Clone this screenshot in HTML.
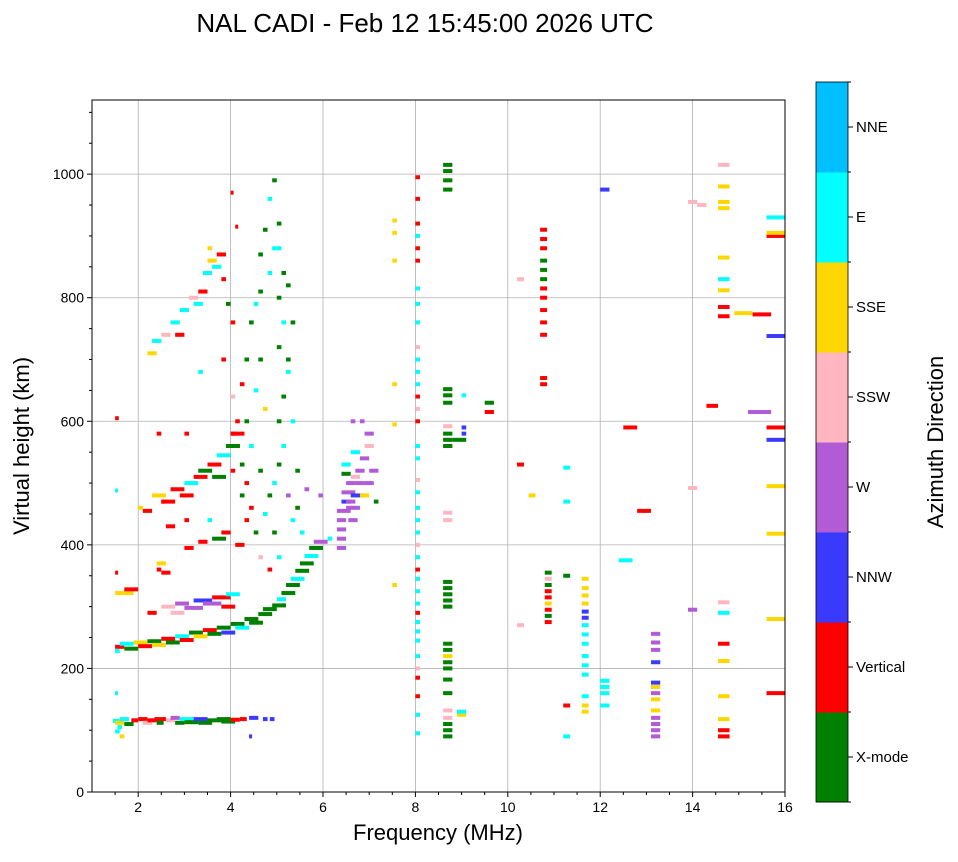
<!DOCTYPE html>
<html><head><meta charset="utf-8"><style>
body{margin:0;background:#fff;font-family:"Liberation Sans",sans-serif}
svg text{font-family:"Liberation Sans",sans-serif}
</style></head><body>
<svg id="chart" width="958" height="857" xmlns="http://www.w3.org/2000/svg">
<text x="425" y="32" font-size="26" text-anchor="middle">NAL CADI - Feb 12 15:45:00 2026 UTC</text>
<g id="grid"></g>
<g id="marks"></g>
<rect x="92" y="100" width="693" height="692" fill="none" stroke="#000" stroke-width="1"/>
<g id="axes"></g>
<text x="438" y="840" font-size="22" text-anchor="middle">Frequency (MHz)</text>
<text transform="translate(29,446) rotate(-90)" font-size="22" text-anchor="middle">Virtual height (km)</text>
<g id="cbar"></g>
<text transform="translate(943,442) rotate(-90)" font-size="22" text-anchor="middle">Azimuth Direction</text>
</svg>
<script>
const directions=["X-mode","Vertical","NNW","W","SSW","SSE","E","NNE"];
const dirColors=["#008000","#ff0000","#3a3aff","#b25bd6","#ffb6c1","#ffd700","#00ffff","#00bfff"];
const xTicks=[2,4,6,8,10,12,14,16];
const yTicks=[0,200,400,600,800,1000];
// runs: [freqStart, freqEnd, height km, direction index]
const runs=[
[1.45,1.6,115,6],[1.5,1.7,112,5],[1.55,1.65,105,6],[1.6,1.8,118,6],[1.7,1.9,110,0],[1.85,2.0,116,1],[2.0,2.2,118,1],[2.1,2.3,112,4],[2.2,2.4,116,1],[2.35,2.6,118,1],[2.4,2.55,112,0],[2.6,2.8,116,4],[2.7,2.9,120,3],[2.8,3.0,112,0],[2.9,3.2,118,6],[3.0,3.3,113,0],[3.2,3.5,118,2],[3.3,3.6,112,0],[3.5,3.8,116,0],[3.7,4.0,118,0],[3.8,4.1,114,0],[4.0,4.2,117,1],[4.2,4.35,118,1],[4.4,4.6,120,2],[4.7,4.8,118,2],[4.85,4.95,118,2],[1.5,1.6,98,6],[1.6,1.7,90,5],[4.4,4.45,90,2],[1.5,1.55,160,6],[1.5,1.58,605,1],[1.5,1.55,488,6],[1.5,1.55,355,1],
[1.5,1.7,235,1],[1.5,1.6,228,6],[1.6,1.9,240,6],[1.7,2.0,232,0],[1.9,2.2,242,5],[2.0,2.3,236,1],[2.2,2.5,244,0],[2.3,2.6,238,5],[2.5,2.8,248,1],[2.6,2.9,242,0],[2.8,3.1,252,6],[2.9,3.2,246,1],[3.1,3.4,258,0],[3.2,3.5,252,5],[3.4,3.7,262,1],[3.5,3.8,256,0],[3.7,4.0,266,0],[3.8,4.1,258,2],[4.0,4.3,272,0],[4.1,4.4,266,6],[4.3,4.6,280,0],[4.4,4.7,274,0],[4.6,4.9,288,0],[4.7,5.0,296,0],[4.9,5.2,302,0],[5.0,5.2,312,6],[5.1,5.4,322,0],[5.2,5.5,335,0],[5.3,5.6,345,6],[5.4,5.7,358,0],[5.5,5.8,370,0],[5.6,5.9,382,6],[5.7,6.0,395,0],[5.8,6.1,405,3],
[2.5,2.8,300,4],[2.7,3.0,290,4],[2.8,3.1,305,3],[3.0,3.4,298,3],[3.2,3.6,310,2],[3.4,3.8,305,3],[3.6,4.0,315,1],[3.8,4.1,300,1],[3.9,4.2,320,6],[1.5,1.9,322,5],[1.7,2.0,328,1],[2.2,2.4,290,1],[2.4,2.6,370,5],[2.5,2.7,355,1],
[4.5,4.6,420,0],[4.7,4.8,450,6],[4.8,4.9,480,0],[4.9,5.0,500,6],[5.0,5.1,530,0],[5.1,5.2,560,6],[5.0,5.1,600,0],[5.1,5.2,640,0],[5.2,5.3,680,6],[5.0,5.1,720,0],[5.1,5.2,760,6],[5.0,5.1,800,0],[5.1,5.2,840,0],[4.9,5.0,880,6],[5.0,5.1,920,0],[4.8,4.9,960,6],[4.9,5.0,990,0],[5.2,5.3,480,3],[5.3,5.4,440,6],[5.4,5.5,460,0],[5.5,5.6,420,6],[5.6,5.7,490,3],[5.4,5.5,520,0],[5.3,5.4,600,6],[5.2,5.3,700,0],[4.6,4.7,520,0],[4.4,4.5,560,6],[4.3,4.4,600,0],[4.5,4.6,650,6],[4.6,4.7,700,0],[4.7,4.8,620,5],[4.4,4.5,760,0],[4.6,4.7,810,0],[4.8,4.9,840,6],[4.7,4.8,910,0],[4.6,4.7,870,0],[4.5,4.6,790,6],[5.3,5.4,760,0],[5.2,5.3,820,0],[5.0,5.1,880,6],[4.2,4.3,480,0],[4.0,4.1,520,1],[3.9,4.0,560,0],[4.1,4.2,600,1],[4.0,4.1,640,4],[4.2,4.3,660,1],[4.3,4.4,700,0],[3.8,3.9,700,1],[4.0,4.1,580,1],[4.1,4.2,560,1],[4.2,4.3,530,0],[4.3,4.4,500,1],[4.4,4.5,460,1],[4.6,4.7,380,4],[4.8,4.9,360,1],[5.0,5.1,380,6],[4.9,5.0,420,0],[4.3,4.4,440,1],
[2.3,2.6,480,5],[2.5,2.8,470,1],[2.7,3.0,490,1],[2.9,3.2,480,1],[3.0,3.3,500,6],[3.2,3.5,510,1],[3.3,3.6,520,0],[3.5,3.8,530,1],[3.6,3.9,510,0],[3.7,4.0,545,6],[3.9,4.2,560,0],[4.0,4.3,580,1],[2.0,2.1,460,5],[2.1,2.3,455,1],
[2.2,2.4,710,5],[2.3,2.5,730,6],[2.5,2.7,740,4],[2.7,2.9,760,6],[2.8,3.0,740,1],[2.9,3.1,780,6],[3.1,3.3,800,4],[3.3,3.5,810,1],[3.4,3.6,840,6],[3.5,3.7,860,5],[3.6,3.8,850,6],[3.7,3.9,870,1],[3.8,3.9,830,1],[3.9,4.0,790,0],[4.0,4.1,760,1],[3.2,3.4,790,6],[3.5,3.6,880,5],
[3.0,3.2,395,1],[3.3,3.5,405,1],[3.6,3.9,410,0],[3.8,4.0,420,1],[3.5,3.6,440,6],[4.1,4.3,400,1],[3.0,3.1,440,1],[2.6,2.8,430,1],[2.5,2.6,470,1],[2.4,2.5,360,1],[3.3,3.4,680,6],[3.0,3.1,580,1],[2.4,2.5,580,1],[4.0,4.05,970,1],[4.1,4.15,915,1],
[6.3,6.5,395,3],[6.3,6.5,410,3],[6.3,6.5,425,3],[6.3,6.5,440,3],[6.3,6.6,455,3],[6.4,6.6,470,2],[6.4,6.7,485,3],[6.5,6.7,500,3],[6.4,6.6,515,0],[6.5,6.8,460,3],[6.6,6.9,480,2],[6.7,6.9,500,3],[6.8,7.0,480,5],[6.9,7.1,500,3],[6.7,6.9,520,3],[6.8,7.0,540,3],[6.6,6.8,550,6],[6.9,7.1,560,4],[7.0,7.2,520,3],[6.9,7.1,580,3],[6.6,6.7,600,3],[6.8,6.9,600,3],[6.4,6.6,530,6],[6.1,6.2,410,6],[5.9,6.0,480,3],[6.5,6.7,470,3],[6.55,6.75,440,3],[6.6,6.8,510,4],[7.1,7.2,470,0],
[7.5,7.6,335,5],[7.5,7.6,660,5],[7.5,7.6,860,5],[7.5,7.6,905,5],[7.5,7.6,925,5],[7.5,7.6,595,5],
[8.0,8.1,95,6],[8.0,8.1,125,6],[8.0,8.1,155,1],[8.0,8.1,185,1],[8.0,8.1,200,4],[8.0,8.1,220,6],[8.0,8.1,245,6],[8.0,8.1,260,6],[8.0,8.1,275,6],[8.0,8.1,290,1],[8.0,8.1,305,6],[8.0,8.1,325,6],[8.0,8.1,345,6],[8.0,8.1,360,1],[8.0,8.1,380,6],[8.0,8.1,400,4],[8.0,8.1,420,6],[8.0,8.1,440,6],[8.0,8.1,460,6],[8.0,8.1,485,6],[8.0,8.1,505,4],[8.0,8.1,540,6],[8.0,8.1,560,6],[8.0,8.1,600,1],[8.0,8.1,620,4],[8.0,8.1,640,1],[8.0,8.1,660,6],[8.0,8.1,680,6],[8.0,8.1,700,6],[8.0,8.1,720,4],[8.0,8.1,760,6],[8.0,8.1,790,6],[8.0,8.1,815,6],[8.0,8.1,860,1],[8.0,8.1,880,1],[8.0,8.1,900,6],[8.0,8.1,920,1],[8.0,8.1,960,1],[8.0,8.1,995,1],
[8.6,8.8,90,0],[8.6,8.8,100,0],[8.6,8.8,110,0],[8.6,8.8,120,4],[8.6,8.8,132,4],[8.6,8.8,160,0],[8.6,8.8,182,0],[8.6,8.8,200,0],[8.6,8.8,210,0],[8.6,8.8,220,5],[8.6,8.8,230,0],[8.6,8.8,240,0],[8.6,8.8,300,0],[8.6,8.8,310,0],[8.6,8.8,320,0],[8.6,8.8,330,0],[8.6,8.8,340,0],[8.6,8.8,440,4],[8.6,8.8,452,4],[8.6,8.8,560,0],[8.6,8.8,570,0],[8.6,8.8,580,0],[8.6,8.8,592,4],[8.6,8.8,630,0],[8.6,8.8,642,0],[8.6,8.8,652,0],[8.6,8.8,975,0],[8.6,8.8,990,0],[8.6,8.8,1005,0],[8.6,8.8,1015,0],
[8.8,9.1,570,0],[9.0,9.1,580,2],[9.0,9.1,590,2],[9.0,9.1,642,6],[8.9,9.1,125,5],[8.9,9.1,130,6],[9.5,9.7,615,1],[9.5,9.7,630,0],
[10.7,10.85,660,1],[10.7,10.85,670,1],[10.7,10.85,740,1],[10.7,10.85,760,1],[10.7,10.85,780,1],[10.7,10.85,800,1],[10.7,10.85,815,1],[10.7,10.85,830,0],[10.7,10.85,845,0],[10.7,10.85,860,0],[10.7,10.85,880,1],[10.7,10.85,895,1],[10.7,10.85,910,1],
[10.8,10.95,275,1],[10.8,10.95,285,0],[10.8,10.95,295,1],[10.8,10.95,305,5],[10.8,10.95,315,1],[10.8,10.95,325,1],[10.8,10.95,335,0],[10.8,10.95,345,4],[10.8,10.95,355,0],
[10.2,10.35,530,1],[10.2,10.35,270,4],[10.2,10.35,830,4],[10.45,10.6,480,5],[11.2,11.35,525,6],[11.2,11.35,470,6],[11.2,11.35,350,0],[11.2,11.35,140,1],[11.2,11.35,90,6],
[11.6,11.75,130,5],[11.6,11.75,140,5],[11.6,11.75,155,6],[11.6,11.75,190,6],[11.6,11.75,205,6],[11.6,11.75,220,6],[11.6,11.75,240,6],[11.6,11.75,255,6],[11.6,11.75,270,6],[11.6,11.75,282,2],[11.6,11.75,292,2],[11.6,11.75,305,5],[11.6,11.75,318,5],[11.6,11.75,330,5],[11.6,11.75,345,5],
[12.0,12.2,975,2],[12.0,12.2,180,6],[12.0,12.2,170,6],[12.0,12.2,160,6],[12.0,12.2,140,6],[12.4,12.7,375,6],[12.5,12.8,590,1],[12.8,13.1,455,1],
[13.1,13.3,90,3],[13.1,13.3,100,3],[13.1,13.3,110,3],[13.1,13.3,120,3],[13.1,13.3,132,5],[13.1,13.3,150,5],[13.1,13.3,160,3],[13.1,13.3,170,5],[13.1,13.3,177,2],[13.1,13.3,210,2],[13.1,13.3,230,3],[13.1,13.3,242,3],[13.1,13.3,256,3],
[13.9,14.1,295,3],[13.9,14.1,492,4],[13.9,14.1,955,4],[14.1,14.3,950,4],[14.3,14.55,625,1],
[14.55,14.8,90,1],[14.55,14.8,100,1],[14.55,14.8,118,5],[14.55,14.8,155,5],[14.55,14.8,212,5],[14.55,14.8,240,1],[14.55,14.8,290,6],[14.55,14.8,307,4],[14.55,14.8,770,1],[14.55,14.8,785,1],[14.55,14.8,812,5],[14.55,14.8,830,6],[14.55,14.8,865,5],[14.55,14.8,945,5],[14.55,14.8,955,5],[14.55,14.8,980,5],[14.55,14.8,1015,4],
[14.9,15.3,775,5],[15.2,15.7,615,3],[15.3,15.7,773,1],[15.6,16,160,1],[15.6,16,280,5],[15.6,16,418,5],[15.6,16,495,5],[15.6,16,570,2],[15.6,16,590,1],[15.6,16,738,2],[15.6,16,900,1],[15.6,16,905,5],[15.6,16,930,6]
];
const NS="http://www.w3.org/2000/svg";
const X0=92,X1=785,Y0=792,Y1=100,FMIN=1,FMAX=16,HMAX=1120;
const xs=f=>X0+(f-FMIN)/(FMAX-FMIN)*(X1-X0);
const ys=h=>Y0-h/HMAX*(Y0-Y1);
function mk(tag,attrs,parent){const e=document.createElementNS(NS,tag);for(const k in attrs)e.setAttribute(k,attrs[k]);parent.appendChild(e);return e;}
const grid=document.getElementById('grid'),axes=document.getElementById('axes'),marks=document.getElementById('marks'),cbar=document.getElementById('cbar');
xTicks.forEach(t=>{const x=xs(t);
 if(t<FMAX){const g=mk('line',{x1:x,x2:x,y1:Y1,y2:Y0,stroke:'#b0b0b0','stroke-width':0.8},grid);}
 const tk=mk('line',{x1:x,x2:x,y1:Y0,y2:Y0+5,stroke:'#000'},axes);
 const lb=mk('text',{x:x,y:Y0+20,'font-size':14,'text-anchor':'middle'},axes);lb.textContent=t;});
for(let f=1.5;f<16;f+=0.5){if(f%2===0)continue;const m=mk('line',{x1:xs(f),x2:xs(f),y1:Y0,y2:Y0+3,stroke:'#000'},axes);}
yTicks.forEach(t=>{const y=ys(t);
 if(t>0){const g=mk('line',{x1:X0,x2:X1,y1:y,y2:y,stroke:'#b0b0b0','stroke-width':0.8},grid);}
 const tk=mk('line',{x1:X0-5,x2:X0,y1:y,y2:y,stroke:'#000'},axes);
 const lb=mk('text',{x:X0-8,y:y+5,'font-size':14,'text-anchor':'end'},axes);lb.textContent=t;});
for(let h=50;h<HMAX;h+=50){if(h%200===0)continue;const m=mk('line',{x1:X0-3,x2:X0,y1:ys(h),y2:ys(h),stroke:'#000'},axes);}
runs.forEach(r=>{const x=xs(r[0]),w=Math.max(3,xs(r[1])-x);
 const rc=mk('rect',{x:x,y:ys(r[2])-2,width:w,height:4,fill:dirColors[r[3]]},marks);
 
 });
const CX=816,CW=32,CT=82,CB=802,seg=(CB-CT)/directions.length;
directions.forEach((d,i)=>{const y=CB-(i+1)*seg;
 const r=mk('rect',{x:CX,y:y,width:CW,height:seg+0.5,fill:dirColors[i]},cbar);
 const tk=mk('line',{x1:CX+CW,x2:CX+CW+5,y1:y+seg/2,y2:y+seg/2,stroke:'#000'},cbar);
 const lb=mk('text',{x:CX+CW+8,y:y+seg/2+5,'font-size':15},cbar);lb.textContent=d;});
for(let i=0;i<=directions.length;i++){const y=CT+i*seg;const m=mk('line',{x1:CX+CW,x2:CX+CW+3,y1:y,y2:y,stroke:'#000'},cbar);}
const fr=mk('rect',{x:CX,y:CT,width:CW,height:CB-CT,fill:'none',stroke:'#000','stroke-width':0.8},cbar);
</script>
</body></html>
